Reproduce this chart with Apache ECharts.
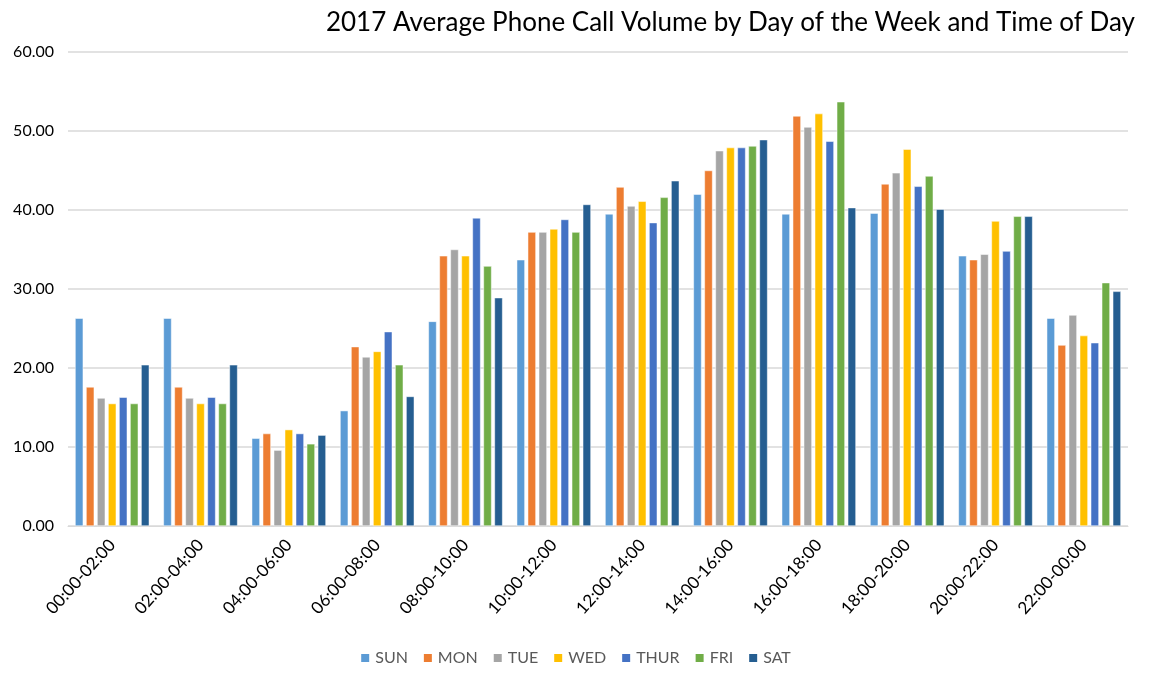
<!DOCTYPE html>
<html>
<head>
<meta charset="utf-8">
<script src="https://cdn.jsdelivr.net/npm/echarts@6/dist/echarts.min.js"></script>
<style>
  html, body { margin: 0; padding: 0; background: #fff; }
  #echart { width: 1150px; height: 673px; }
</style>
</head>
<body>
<div id="echart"></div>
<script>
// time slots on the x axis
const slots = ["00:00-02:00", "02:00-04:00", "04:00-06:00", "06:00-08:00", "08:00-10:00", "10:00-12:00",
  "12:00-14:00", "14:00-16:00", "16:00-18:00", "18:00-20:00", "20:00-22:00", "22:00-00:00"];
const days = ["SUN", "MON", "TUE", "WED", "THUR", "FRI", "SAT"];
const dayColors = ["#5B9BD5", "#ED7D31", "#A5A5A5", "#FFC000", "#4472C4", "#70AD47", "#255E91"];

// values per day, one entry per time slot
const sun  = [26.3, 26.3, 11.1, 14.6, 25.9, 33.7, 39.5, 42.0, 39.5, 39.6, 34.2, 26.3];
const mon  = [17.6, 17.6, 11.7, 22.7, 34.2, 37.2, 42.9, 45.0, 51.9, 43.3, 33.7, 22.9];
const tue  = [16.2, 16.2,  9.6, 21.4, 35.0, 37.2, 40.5, 47.5, 50.5, 44.7, 34.4, 26.7];
const wed  = [15.5, 15.5, 12.2, 22.1, 34.2, 37.6, 41.1, 47.9, 52.2, 47.7, 38.6, 24.1];
const thur = [16.3, 16.3, 11.7, 24.6, 39.0, 38.8, 38.4, 47.9, 48.7, 43.0, 34.8, 23.2];
const fri  = [15.5, 15.5, 10.4, 20.4, 32.9, 37.2, 41.6, 48.1, 53.7, 44.3, 39.2, 30.8];
const sat  = [20.4, 20.4, 11.5, 16.4, 28.9, 40.7, 43.7, 48.9, 40.3, 40.1, 39.2, 29.7];

const dayValues = [sun, mon, tue, wed, thur, fri, sat];

const font = "Lato, sans-serif";

const series = days.map((name, i) => {
  return {
    name: name,
    type: "bar",
    data: dayValues[i],
    barGap: "35%",
    barCategoryGap: "16%",
    itemStyle: {
      color: dayColors[i],
      borderColor: "#fff",
      borderWidth: 0.5
    }
  };
});

const echart = echarts.init(document.getElementById("echart"));
echart.setOption({
  animation: false,
  title: {
    text: "2017 Average Phone Call Volume by Day of the Week and Time of Day",
    right: 10,
    top: 5,
    textStyle: { fontFamily: font, fontWeight: "normal", fontSize: 26, color: "#000" }
  },
  legend: {
    data: days,
    bottom: 2,
    left: "center",
    itemWidth: 10,
    itemHeight: 10,
    itemGap: 14,
    icon: "rect",
    textStyle: { fontFamily: font, fontSize: 16, color: "#595959" }
  },
  grid: { left: 68, right: 22, top: 52, bottom: 147 },
  xAxis: {
    type: "category",
    data: slots,
    axisTick: { show: false },
    axisLine: { lineStyle: { color: "#d9d9d9" } },
    axisLabel: {
      rotate: 48,
      interval: 0,
      margin: 16,
      fontFamily: font,
      fontSize: 17,
      color: "#000"
    }
  },
  yAxis: {
    type: "value",
    min: 0,
    max: 60,
    interval: 10,
    axisLabel: {
      formatter: v => v.toFixed(2),
      fontFamily: font,
      fontSize: 16,
      color: "#000",
      margin: 14
    },
    splitLine: { lineStyle: { color: "#d9d9d9", width: 1.5 } }
  },
  series: series
});
</script>
</body>
</html>
